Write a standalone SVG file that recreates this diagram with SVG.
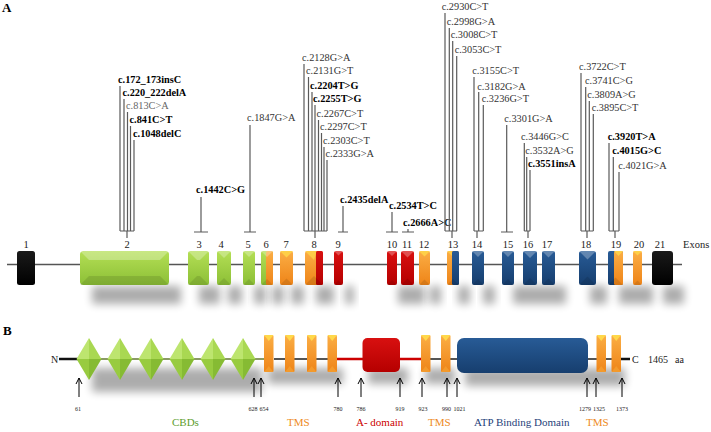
<svg xmlns="http://www.w3.org/2000/svg" xmlns:xlink="http://www.w3.org/1999/xlink" width="711" height="432" viewBox="0 0 711 432">
<style>
text{font-family:"Liberation Serif","Times New Roman",serif;}
.pl{font-size:13px;font-weight:bold;fill:#000}
.mut{font-size:10.3px;fill:#333}
.mb{font-size:10.3px;font-weight:bold;fill:#000}
.num{font-size:10.5px;fill:#222;text-anchor:middle}
.ml{stroke:#5a5a5a;stroke-width:1.2;fill:none}
.bt{fill:#fff;opacity:.28}
.bb{fill:#000;opacity:.1}
.sh{fill:#000;opacity:.32;filter:url(#blur)}
.arr{stroke:#000;stroke-width:1;fill:none}
.an{font-size:6px;fill:#222;text-anchor:middle}
.lg{font-size:11px}
</style>
<defs>
<filter id="blur" x="-50%" y="-80%" width="200%" height="260%"><feGaussianBlur stdDeviation="4.5"/></filter>
<linearGradient id="gG" x1="0" y1="0" x2="0" y2="1"><stop offset="0" stop-color="#b4df55"/><stop offset="1" stop-color="#8cbf36"/></linearGradient>
<linearGradient id="gO" x1="0" y1="0" x2="0" y2="1"><stop offset="0" stop-color="#fbae45"/><stop offset="1" stop-color="#ee8418"/></linearGradient>
<linearGradient id="gR" x1="0" y1="0" x2="0" y2="1"><stop offset="0" stop-color="#d81010"/><stop offset="1" stop-color="#b50000"/></linearGradient>
<linearGradient id="gB" x1="0" y1="0" x2="0" y2="1"><stop offset="0" stop-color="#285b96"/><stop offset="1" stop-color="#163e6e"/></linearGradient>
<linearGradient id="gK" x1="0" y1="0" x2="0" y2="1"><stop offset="0" stop-color="#1a1a1a"/><stop offset="1" stop-color="#000"/></linearGradient>
<g id="dia">
<polygon points="-12.5,0 0,-21 0,0" fill="#bde56f"/>
<polygon points="0,-21 12.5,0 0,0" fill="#a9d852"/>
<polygon points="-12.5,0 0,0 0,21" fill="#98cb40"/>
<polygon points="0,0 12.5,0 0,21" fill="#86bb33"/>
</g>
<g id="tms">
<rect x="0" y="0" width="9.5" height="37" rx="1.5" fill="url(#gO)"/>
<polygon points="0,0 9.5,0 4.75,6" fill="#ffd84a"/>
<polygon points="0,37 9.5,37 4.75,31" fill="#f39a2c"/>
</g>
</defs>

<text class="pl" x="2" y="12">A</text>

<g id="shadows-a">
<rect class="sh" x="92" y="286" width="89" height="18"/>
<rect class="sh" x="199" y="286" width="21" height="18"/>
<rect class="sh" x="228" y="286" width="14" height="18"/>
<rect class="sh" x="254" y="286" width="12" height="18"/>
<rect class="sh" x="272" y="286" width="12" height="18"/>
<rect class="sh" x="291" y="286" width="13" height="18"/>
<rect class="sh" x="316" y="286" width="18" height="18"/>
<rect class="sh" x="345" y="286" width="9" height="18"/>
<rect class="sh" x="398" y="286" width="27" height="18"/>
<rect class="sh" x="430" y="286" width="11" height="18"/>
<rect class="sh" x="458" y="286" width="12" height="18"/>
<rect class="sh" x="483" y="286" width="12" height="18"/>
<rect class="sh" x="513" y="286" width="53" height="18"/>
<rect class="sh" x="590" y="286" width="17" height="18"/>
<rect class="sh" x="619" y="286" width="34" height="18"/>
<rect class="sh" x="663" y="286" width="21" height="18"/>
</g>

<line x1="7" y1="264.5" x2="682" y2="264.5" stroke="#555" stroke-width="1.3"/>
<text x="683" y="248" style="font-size:10.5px;fill:#222">Exons</text>

<g id="exon-1"><rect x="17" y="251" width="18" height="34" rx="2.5" fill="url(#gK)"/><text class="num" x="26" y="248">1</text></g>
<g id="exon-2"><rect x="80" y="251" width="89" height="34" rx="3.5" fill="url(#gG)"/><polygon class="bt" points="80,251 169,251 160,260 89,260"/><polygon class="bb" points="80,285 169,285 160,276 89,276"/><text class="num" x="127" y="248">2</text></g>
<g id="exon-3"><rect x="188" y="251" width="21" height="34" rx="2.5" fill="url(#gG)"/><polygon class="bt" points="188,251 209,251 200,260 197,260"/><polygon class="bb" points="188,285 209,285 200,276 197,276"/><text class="num" x="199" y="248">3</text></g>
<g id="exon-4"><rect x="217" y="251" width="14" height="34" rx="2" fill="url(#gG)"/><polygon class="bt" points="217,251 231,251 224,258"/><polygon class="bb" points="217,285 231,285 224,278"/><text class="num" x="221" y="248">4</text></g>
<g id="exon-5"><rect x="243" y="251" width="12" height="34" rx="2" fill="url(#gG)"/><polygon class="bt" points="243,251 255,251 249,257"/><polygon class="bb" points="243,285 255,285 249,279"/><text class="num" x="248" y="248">5</text></g>
<g id="exon-6"><rect x="261" y="251" width="12" height="34" rx="2" fill="url(#gG)"/><rect x="266" y="251" width="7" height="34" rx="1.5" fill="url(#gO)"/><polygon class="bt" points="261,251 273,251 267,257"/><polygon class="bb" points="261,285 273,285 267,279"/><text class="num" x="266" y="248">6</text></g>
<g id="exon-7"><rect x="280" y="251" width="13" height="34" rx="2" fill="url(#gO)"/><polygon points="280,251 293,251 286.5,257.5" fill="#ffd84a" opacity=".8"/><polygon class="bb" points="280,285 293,285 286.5,278.5"/><text class="num" x="286" y="248">7</text></g>
<g id="exon-8"><rect x="305" y="251" width="18" height="34" rx="2.5" fill="url(#gO)"/><rect x="316" y="251" width="7" height="34" rx="1.5" fill="url(#gR)"/><polygon points="305,251 316,251 316,253.5 314,260" fill="#ffd84a" opacity=".7"/><polygon class="bb" points="305,285 323,285 314,276"/><text class="num" x="314" y="248">8</text></g>
<g id="exon-9"><rect x="334" y="251" width="9" height="34" rx="2" fill="url(#gR)"/><polygon class="bt" points="334,251 343,251 338.5,255.5"/><polygon class="bb" points="334,285 343,285 338.5,280.5"/><text class="num" x="338" y="248">9</text></g>
<g id="exon-10"><rect x="387" y="251" width="10" height="34" rx="2" fill="url(#gR)"/><polygon class="bt" points="387,251 397,251 392,256"/><polygon class="bb" points="387,285 397,285 392,280"/><text class="num" x="392" y="248">10</text></g>
<g id="exon-11"><rect x="401" y="251" width="13" height="34" rx="2" fill="url(#gR)"/><polygon class="bt" points="401,251 414,251 407.5,257.5"/><polygon class="bb" points="401,285 414,285 407.5,278.5"/><text class="num" x="407" y="248">11</text></g>
<g id="exon-12"><rect x="419" y="251" width="11" height="34" rx="2" fill="url(#gO)"/><polygon points="419,251 430,251 424.5,256.5" fill="#ffd84a" opacity=".8"/><polygon class="bb" points="419,285 430,285 424.5,279.5"/><text class="num" x="424" y="248">12</text></g>
<g id="exon-13"><rect x="447" y="251" width="12" height="34" rx="2" fill="url(#gO)"/><rect x="452" y="251" width="7" height="34" rx="1.5" fill="url(#gB)"/><polygon points="447,251 452,251 452,256" fill="#ffd84a" opacity=".7"/><polygon class="bb" points="447,285 459,285 453,279"/><text class="num" x="453" y="248">13</text></g>
<g id="exon-14"><rect x="472" y="251" width="12" height="34" rx="2" fill="url(#gB)"/><polygon class="bt" points="472,251 484,251 478,257"/><polygon class="bb" points="472,285 484,285 478,279"/><text class="num" x="477" y="248">14</text></g>
<g id="exon-15"><rect x="502" y="251" width="12" height="34" rx="2" fill="url(#gB)"/><polygon class="bt" points="502,251 514,251 508,257"/><polygon class="bb" points="502,285 514,285 508,279"/><text class="num" x="508" y="248">15</text></g>
<g id="exon-16"><rect x="523" y="251" width="14" height="34" rx="2" fill="url(#gB)"/><polygon class="bt" points="523,251 537,251 530,258"/><polygon class="bb" points="523,285 537,285 530,278"/><text class="num" x="528" y="248">16</text></g>
<g id="exon-17"><rect x="542" y="251" width="13" height="34" rx="2" fill="url(#gB)"/><polygon class="bt" points="542,251 555,251 548.5,257.5"/><polygon class="bb" points="542,285 555,285 548.5,278.5"/><text class="num" x="547" y="248">17</text></g>
<g id="exon-18"><rect x="579" y="251" width="17" height="34" rx="2.5" fill="url(#gB)"/><polygon class="bt" points="579,251 596,251 587.5,259.5"/><polygon class="bb" points="579,285 596,285 587.5,276.5"/><text class="num" x="586" y="248">18</text></g>
<g id="exon-19"><rect x="608" y="251" width="15" height="34" rx="2" fill="url(#gB)"/><rect x="614" y="251" width="9" height="34" rx="1.5" fill="url(#gO)"/><polygon points="614,251 623,251 618.5,256" fill="#ffd84a" opacity=".8"/><polygon class="bb" points="608,285 623,285 615.5,277.5"/><text class="num" x="616" y="248">19</text></g>
<g id="exon-20"><rect x="633" y="251" width="9" height="34" rx="2" fill="url(#gO)"/><polygon points="633,251 642,251 637.5,255.5" fill="#ffd84a" opacity=".8"/><polygon class="bb" points="633,285 642,285 637.5,280.5"/><text class="num" x="639" y="248">20</text></g>
<g id="exon-21"><rect x="652" y="251" width="21" height="34" rx="3" fill="url(#gK)"/><text class="num" x="660" y="248">21</text></g>

<g id="mut-exon2">
<text class="mb" x="118" y="83">c.172_173insC</text>
<text class="mb" x="122.5" y="96">c.220_222delA</text>
<text class="mut" x="126" y="109" style="fill:#666">c.813C&gt;A</text>
<text class="mb" x="129.5" y="123">c.841C&gt;T</text>
<text class="mb" x="133" y="137">c.1048delC</text>
</g>
<g id="mut-exon3"><text class="mb" x="196" y="193">c.1442C&gt;G</text></g>
<g id="mut-exon5"><text class="mut" x="247" y="121">c.1847G&gt;A</text></g>
<g id="mut-exon8">
<text class="mut" x="302" y="61">c.2128G&gt;A</text>
<text class="mut" x="306" y="74">c.2131G&gt;T</text>
<text class="mb" x="310" y="89">c.2204T&gt;G</text>
<text class="mb" x="313" y="102">c.2255T&gt;G</text>
<text class="mut" x="316.5" y="117">c.2267C&gt;T</text>
<text class="mut" x="320" y="130">c.2297C&gt;T</text>
<text class="mut" x="323" y="144">c.2303C&gt;T</text>
<text class="mut" x="325.5" y="157">c.2333G&gt;A</text>
</g>
<g id="mut-exon9"><text class="mb" x="340" y="203">c.2435delA</text></g>
<g id="mut-exon10"><text class="mb" x="389" y="209">c.2534T&gt;C</text></g>
<g id="mut-exon11"><text class="mb" x="403" y="226">c.2666A&gt;C</text></g>
<g id="mut-exon13">
<text class="mut" x="441.7" y="9.5">c.2930C&gt;T</text>
<text class="mut" x="446.7" y="25">c.2998G&gt;A</text>
<text class="mut" x="450.7" y="37.5">c.3008C&gt;T</text>
<text class="mut" x="454.7" y="53">c.3053C&gt;T</text>
</g>
<g id="mut-exon14">
<text class="mut" x="472.3" y="74">c.3155C&gt;T</text>
<text class="mut" x="477.3" y="89.5">c.3182G&gt;A</text>
<text class="mut" x="481.7" y="101.5">c.3236G&gt;T</text>
</g>
<g id="mut-exon15"><text class="mut" x="504.3" y="121.5">c.3301G&gt;A</text></g>
<g id="mut-exon16">
<text class="mut" x="521" y="140">c.3446G&gt;C</text>
<text class="mut" x="525.3" y="153.5">c.3532A&gt;G</text>
<text class="mb" x="528" y="167">c.3551insA</text>
</g>
<g id="mut-exon18">
<text class="mut" x="579" y="69.5">c.3722C&gt;T</text>
<text class="mut" x="585" y="83.5">c.3741C&gt;G</text>
<text class="mut" x="587.3" y="97.5">c.3809A&gt;G</text>
<text class="mut" x="591.7" y="111">c.3895C&gt;T</text>
</g>
<g id="mut-exon19">
<text class="mb" x="607.7" y="140">c.3920T&gt;A</text>
<text class="mb" x="612.3" y="153.5">c.4015G&gt;C</text>
<text class="mut" x="618.3" y="168.5">c.4021G&gt;A</text>
</g>

<g id="connectors">
<path class="ml" d="M120,86V231M124,99V231M127.5,112V231M130.5,126V231M134,140V231M120,231H134M127,231V238"/>
<path class="ml" d="M201,197V232M194,232H208"/>
<path class="ml" d="M250,125V232M244,232H256"/>
<path class="ml" d="M304,64V231M308.5,77V231M312,92V231M315,105V231M318.5,120V231M321.5,133V231M324,147V231M327,160V231M304,231H327M315,231V238"/>
<path class="ml" d="M343,206V232M338,232H348"/>
<path class="ml" d="M392,212V232M386,232H398"/>
<path class="ml" d="M408,229V232M402,232H414"/>
<path class="ml" d="M445,13V231M449.3,28V231M452.7,41V231M456.7,56V231M445,231H457M452,231V238"/>
<path class="ml" d="M474,77V231M478.7,92V231M483.3,105V231M474,231H483.3M477,231V238"/>
<path class="ml" d="M506.7,125V232M501,232H513"/>
<path class="ml" d="M524.3,143V231M526.7,157V231M530,170V231M524.3,231H530M528,231V238"/>
<path class="ml" d="M581,73V231M585.7,87V231M589.3,101V231M593.3,114V231M581,231H593.3M587,231V238"/>
<path class="ml" d="M609,143V231M613.3,157V231M619,172V231M609,231H619M615,231V238"/>
</g>

<text class="pl" x="3" y="335">B</text>
<g id="shadows-b">
<rect class="sh" x="92" y="368" width="170" height="24" opacity=".28"/>
<rect class="sh" x="268" y="368" width="75" height="16"/>
<rect class="sh" x="368" y="368" width="40" height="16"/>
<rect class="sh" x="425" y="368" width="30" height="16"/>
<rect class="sh" x="465" y="368" width="160" height="18"/>
</g>
<g id="protein-backbone">
<text x="51" y="363" style="font-size:10px;fill:#222">N</text>
<line x1="59" y1="359" x2="80" y2="359" stroke="#111" stroke-width="2.5"/>
<line x1="80" y1="359" x2="264" y2="359" stroke="#8a9a64" stroke-width="2.2"/>
<line x1="274" y1="359" x2="338" y2="359" stroke="#555" stroke-width="2"/>
<line x1="337" y1="359" x2="422" y2="359" stroke="#cc0000" stroke-width="2.5"/>
<line x1="430" y1="359" x2="458" y2="359" stroke="#555" stroke-width="2"/>
<line x1="587" y1="359" x2="612" y2="359" stroke="#555" stroke-width="2"/>
<line x1="621" y1="359" x2="630" y2="359" stroke="#111" stroke-width="2.5"/>
<text x="632" y="363" style="font-size:10px;fill:#222">C</text>
<text x="648" y="363" style="font-size:10px;fill:#222">1465</text>
<text x="675" y="363" style="font-size:10px;fill:#222">aa</text>
</g>
<g id="cbd-domains">
<use xlink:href="#dia" x="89" y="359"/>
<use xlink:href="#dia" x="120" y="359"/>
<use xlink:href="#dia" x="151" y="359"/>
<use xlink:href="#dia" x="182" y="359"/>
<use xlink:href="#dia" x="213" y="359"/>
<use xlink:href="#dia" x="243" y="359"/>
</g>
<g id="tms-1">
<use xlink:href="#tms" x="264" y="335"/>
<use xlink:href="#tms" x="285" y="335"/>
<use xlink:href="#tms" x="307" y="335"/>
<use xlink:href="#tms" x="327.5" y="335"/>
</g>
<g id="a-domain"><rect x="362.5" y="338" width="37.5" height="34" rx="5" fill="url(#gR)"/></g>
<g id="tms-2">
<use xlink:href="#tms" x="421" y="335"/>
<use xlink:href="#tms" x="441" y="335"/>
</g>
<g id="atp-domain"><rect x="457" y="338" width="131" height="35" rx="7" fill="url(#gB)"/></g>
<g id="tms-3">
<use xlink:href="#tms" x="596.5" y="335"/>
<use xlink:href="#tms" x="611.5" y="335"/>
</g>

<g id="position-arrows">
<path class="arr" d="M79,397V378M76,384L79,378L82,384"/>
<path class="arr" d="M254,397V378M251,384L254,378L257,384"/>
<path class="arr" d="M261,397V378M258,384L261,378L264,384"/>
<path class="arr" d="M338,397V378M335,384L338,378L341,384"/>
<path class="arr" d="M361,397V378M358,384L361,378L364,384"/>
<path class="arr" d="M400,397V378M397,384L400,378L403,384"/>
<path class="arr" d="M422,397V378M419,384L422,378L425,384"/>
<path class="arr" d="M447,397V378M444,384L447,378L450,384"/>
<path class="arr" d="M457,397V378M454,384L457,378L460,384"/>
<path class="arr" d="M587,397V378M584,384L587,378L590,384"/>
<path class="arr" d="M596,397V378M593,384L596,378L599,384"/>
<path class="arr" d="M622,397V378M619,384L622,378L625,384"/>
<text class="an" x="78" y="411">61</text>
<text class="an" x="257.5" y="411" style="text-anchor:end">628</text>
<text class="an" x="259.5" y="411" style="text-anchor:start">654</text>
<text class="an" x="338" y="411">780</text>
<text class="an" x="361" y="411">786</text>
<text class="an" x="400" y="411">919</text>
<text class="an" x="423" y="411">923</text>
<text class="an" x="451" y="411" style="text-anchor:end">990</text>
<text class="an" x="453.5" y="411" style="text-anchor:start">1021</text>
<text class="an" x="591" y="411" style="text-anchor:end">1279</text>
<text class="an" x="593" y="411" style="text-anchor:start">1325</text>
<text class="an" x="622" y="411">1373</text>
</g>

<g id="legend">
<text class="lg" x="172" y="426" style="fill:#5e9e2e">CBDs</text>
<text class="lg" x="287" y="426" style="fill:#ee8a22">TMS</text>
<text class="lg" x="356" y="426" style="fill:#cc0000">A- domain</text>
<text class="lg" x="428" y="426" style="fill:#ee8a22">TMS</text>
<text class="lg" x="474" y="426" style="fill:#1f3f7a">ATP Binding Domain</text>
<text class="lg" x="586" y="426" style="fill:#ee8a22">TMS</text>
</g>
</svg>
